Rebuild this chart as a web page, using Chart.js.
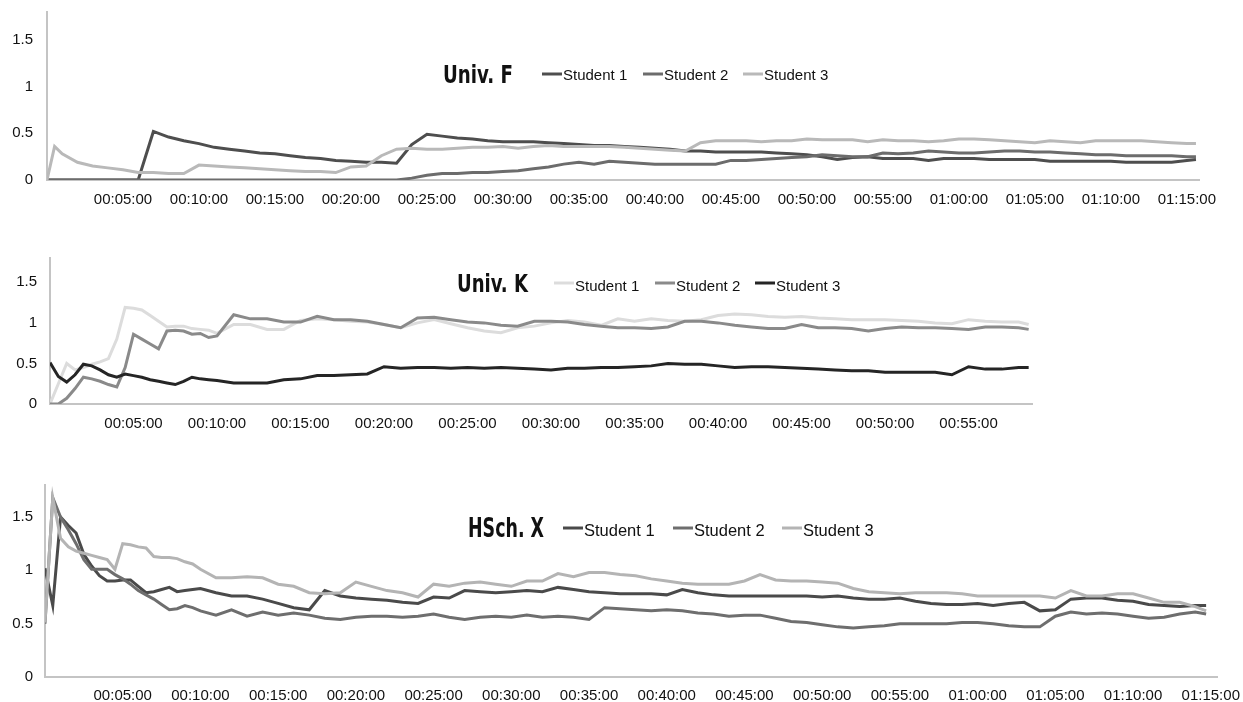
<!DOCTYPE html>
<html lang="en">
<head>
  <meta charset="UTF-8" />
  <title>Univ. F / Univ. K / HSch. X</title>
  <!-- Chart.js -->
  <script src="https://cdn.jsdelivr.net/npm/chart.js@4.4.0/dist/chart.umd.min.js"></script>
  <style>
    html, body { margin: 0; padding: 0; background: #fff; }
    body { width: 1243px; height: 702px; position: relative; overflow: hidden; }
    canvas { position: absolute; left: 0; }
  </style>
</head>
<body>
  <canvas id="chartF" width="1243" height="235" style="top:-15px"></canvas>
  <canvas id="chartK" width="1243" height="210" style="top:230px"></canvas>
  <canvas id="chartX" width="1260" height="242" style="top:460px"></canvas>

  <script>
    // ---- data (minutes elapsed, values) ----
    const seriesNames = ['Student 1', 'Student 2', 'Student 3'];
    const yTicks = [0, 0.5, 1, 1.5];

    // Univ. F
    const F_TIMES = [
      0, 0.5, 1, 2, 3, 4, 5, 6, 7, 8,
      9, 10, 11, 12, 13, 14, 15, 16, 17, 18,
      19, 20, 21, 22, 23, 24, 25, 26, 27, 28,
      29, 30, 31, 32, 33, 34, 35, 36, 37, 38,
      39, 40, 41, 42, 43, 44, 45, 46, 47, 48,
      49, 50, 51, 52, 53, 54, 55, 56, 57, 58,
      59, 60, 61, 62, 63, 64, 65, 66, 67, 68,
      69, 70, 71, 72, 73, 74, 75, 75.6
    ];
    const F_S1 = [
      0, 0, 0, 0, 0, 0, 0, 0, 0.52, 0.46,
      0.42, 0.39, 0.35, 0.33, 0.31, 0.29, 0.28, 0.26, 0.24, 0.23,
      0.21, 0.20, 0.19, 0.19, 0.18, 0.38, 0.49, 0.47, 0.45, 0.44,
      0.42, 0.41, 0.41, 0.41, 0.40, 0.39, 0.38, 0.37, 0.37, 0.36,
      0.35, 0.34, 0.33, 0.31, 0.31, 0.30, 0.30, 0.30, 0.30, 0.29,
      0.28, 0.27, 0.25, 0.22, 0.24, 0.25, 0.23, 0.23, 0.23, 0.21,
      0.23, 0.23, 0.23, 0.22, 0.22, 0.22, 0.22, 0.20, 0.20, 0.20,
      0.20, 0.20, 0.19, 0.19, 0.19, 0.19, 0.21, 0.22
    ];
    const F_S2 = [
      0, 0, 0, 0, 0, 0, 0, 0, 0, 0,
      0, 0, 0, 0, 0, 0, 0, 0, 0, 0,
      0, 0, 0, 0, 0, 0.02, 0.05, 0.07, 0.07, 0.08,
      0.08, 0.09, 0.10, 0.12, 0.14, 0.17, 0.19, 0.17, 0.20, 0.19,
      0.18, 0.17, 0.17, 0.17, 0.17, 0.17, 0.21, 0.21, 0.22, 0.23,
      0.24, 0.25, 0.27, 0.26, 0.25, 0.25, 0.29, 0.28, 0.29, 0.31,
      0.30, 0.29, 0.29, 0.30, 0.31, 0.31, 0.30, 0.30, 0.29, 0.28,
      0.27, 0.27, 0.26, 0.26, 0.26, 0.26, 0.25, 0.25
    ];
    const F_S3 = [
      0, 0.36, 0.28, 0.19, 0.15, 0.13, 0.11, 0.08, 0.08, 0.07,
      0.07, 0.16, 0.15, 0.14, 0.13, 0.12, 0.11, 0.10, 0.09, 0.09,
      0.08, 0.14, 0.15, 0.26, 0.33, 0.34, 0.33, 0.33, 0.34, 0.35,
      0.35, 0.36, 0.34, 0.36, 0.37, 0.36, 0.36, 0.36, 0.36, 0.35,
      0.34, 0.33, 0.32, 0.31, 0.40, 0.42, 0.42, 0.42, 0.41, 0.42,
      0.42, 0.44, 0.43, 0.43, 0.43, 0.41, 0.43, 0.42, 0.42, 0.41,
      0.42, 0.44, 0.44, 0.43, 0.42, 0.41, 0.40, 0.42, 0.41, 0.40,
      0.42, 0.42, 0.42, 0.42, 0.41, 0.40, 0.39, 0.39
    ];

    // Univ. K
    const K_TIMES = [
      0, 0.5, 1, 1.5, 2, 2.5, 3, 3.5, 4, 4.5,
      5, 5.5, 6, 6.5, 7, 7.5, 8, 8.5, 9, 9.5,
      10, 11, 12, 13, 14, 15, 16, 17, 18, 19,
      20, 21, 22, 23, 24, 25, 26, 27, 28, 29,
      30, 31, 32, 33, 34, 35, 36, 37, 38, 39,
      40, 41, 42, 43, 44, 45, 46, 47, 48, 49,
      50, 51, 52, 53, 54, 55, 56, 57, 58, 58.6
    ];
    const K_S1 = [
      0, 0.25, 0.50, 0.42, 0.45, 0.49, 0.52, 0.56, 0.80, 1.19,
      1.18, 1.16, 1.09, 1.02, 0.95, 0.96, 0.96, 0.93, 0.92, 0.91,
      0.87, 0.98, 0.98, 0.92, 0.92, 1.03, 1.05, 1.04, 1.02, 1.01,
      0.98, 0.94, 1.00, 1.04, 0.99, 0.94, 0.90, 0.88, 0.94, 0.96,
      1.00, 1.03, 1.01, 0.97, 1.05, 1.02, 1.05, 1.03, 1.02, 1.04,
      1.09, 1.11, 1.10, 1.08, 1.07, 1.08, 1.06, 1.05, 1.04, 1.04,
      1.04, 1.03, 1.02, 1.00, 0.99, 1.04, 1.02, 1.01, 1.01, 0.98
    ];
    const K_S2 = [
      0, 0, 0.07, 0.19, 0.33, 0.31, 0.28, 0.24, 0.21, 0.45,
      0.86, 0.80, 0.74, 0.68, 0.90, 0.91, 0.90, 0.86, 0.87, 0.82,
      0.84, 1.10, 1.05, 1.05, 1.01, 1.01, 1.08, 1.04, 1.04, 1.02,
      0.98, 0.94, 1.06, 1.07, 1.04, 1.01, 1.00, 0.97, 0.96, 1.02,
      1.02, 1.01, 0.98, 0.96, 0.94, 0.94, 0.93, 0.95, 1.02, 1.02,
      1.00, 0.97, 0.95, 0.93, 0.93, 0.98, 0.94, 0.94, 0.93, 0.90,
      0.93, 0.95, 0.94, 0.94, 0.93, 0.92, 0.95, 0.95, 0.94, 0.92
    ];
    const K_S3 = [
      0.51, 0.34, 0.27, 0.36, 0.49, 0.47, 0.42, 0.36, 0.33, 0.37,
      0.35, 0.33, 0.30, 0.28, 0.26, 0.24, 0.28, 0.33, 0.31, 0.30,
      0.29, 0.26, 0.26, 0.26, 0.30, 0.31, 0.35, 0.35, 0.36, 0.37,
      0.46, 0.44, 0.45, 0.45, 0.44, 0.45, 0.44, 0.45, 0.44, 0.43,
      0.42, 0.44, 0.44, 0.45, 0.45, 0.46, 0.47, 0.50, 0.49, 0.49,
      0.47, 0.45, 0.46, 0.46, 0.45, 0.44, 0.43, 0.42, 0.41, 0.41,
      0.39, 0.39, 0.39, 0.39, 0.36, 0.46, 0.43, 0.43, 0.45, 0.45
    ];

    // HSch. X
    const X_TIMES = [
      0, 0.5, 1, 1.5, 2, 2.5, 3, 3.5, 4, 4.5,
      5, 5.5, 6, 6.5, 7, 7.5, 8, 8.5, 9, 9.5,
      10, 11, 12, 13, 14, 15, 16, 17, 18, 19,
      20, 21, 22, 23, 24, 25, 26, 27, 28, 29,
      30, 31, 32, 33, 34, 35, 36, 37, 38, 39,
      40, 41, 42, 43, 44, 45, 46, 47, 48, 49,
      50, 51, 52, 53, 54, 55, 56, 57, 58, 59,
      60, 61, 62, 63, 64, 65, 66, 67, 68, 69,
      70, 71, 72, 73, 74, 74.7
    ];
    const X_S1 = [
      1.02, 0.67, 1.50, 1.42, 1.35, 1.15, 1.04, 0.95, 0.90, 0.90,
      0.91, 0.91, 0.85, 0.79, 0.80, 0.82, 0.84, 0.80, 0.81, 0.82,
      0.83, 0.79, 0.76, 0.76, 0.73, 0.69, 0.65, 0.63, 0.81, 0.76,
      0.74, 0.73, 0.72, 0.70, 0.69, 0.75, 0.74, 0.81, 0.80, 0.79,
      0.80, 0.81, 0.80, 0.84, 0.82, 0.80, 0.79, 0.78, 0.78, 0.78,
      0.77, 0.82, 0.79, 0.77, 0.76, 0.76, 0.76, 0.76, 0.76, 0.76,
      0.75, 0.76, 0.74, 0.73, 0.73, 0.74, 0.71, 0.69, 0.68, 0.68,
      0.69, 0.67, 0.69, 0.70, 0.62, 0.63, 0.73, 0.74, 0.74, 0.72,
      0.71, 0.68, 0.67, 0.66, 0.67, 0.67
    ];
    const X_S2 = [
      0.50, 1.68, 1.50, 1.38, 1.25, 1.10, 1.01, 1.01, 1.01, 0.96,
      0.92, 0.87, 0.81, 0.77, 0.73, 0.68, 0.63, 0.64, 0.67, 0.65,
      0.62, 0.58, 0.63, 0.57, 0.61, 0.58, 0.60, 0.58, 0.55, 0.54,
      0.56, 0.57, 0.57, 0.56, 0.57, 0.59, 0.56, 0.54, 0.56, 0.57,
      0.56, 0.58, 0.56, 0.57, 0.56, 0.54, 0.65, 0.64, 0.63, 0.62,
      0.63, 0.62, 0.60, 0.59, 0.57, 0.58, 0.58, 0.55, 0.52, 0.51,
      0.49, 0.47, 0.46, 0.47, 0.48, 0.50, 0.50, 0.50, 0.50, 0.51,
      0.51, 0.50, 0.48, 0.47, 0.47, 0.57, 0.61, 0.59, 0.60, 0.59,
      0.57, 0.55, 0.56, 0.59, 0.61, 0.59
    ];
    const X_S3 = [
      0.51, 1.68, 1.30, 1.22, 1.18, 1.16, 1.14, 1.12, 1.10, 1.01,
      1.25, 1.24, 1.22, 1.21, 1.13, 1.12, 1.12, 1.11, 1.08, 1.06,
      1.01, 0.93, 0.93, 0.94, 0.93, 0.87, 0.85, 0.79, 0.78, 0.79,
      0.89, 0.85, 0.81, 0.79, 0.75, 0.87, 0.85, 0.88, 0.89, 0.87,
      0.85, 0.90, 0.90, 0.97, 0.94, 0.98, 0.98, 0.96, 0.95, 0.92,
      0.90, 0.88, 0.87, 0.87, 0.87, 0.90, 0.96, 0.91, 0.90, 0.90,
      0.89, 0.88, 0.83, 0.80, 0.79, 0.78, 0.79, 0.79, 0.79, 0.78,
      0.76, 0.76, 0.76, 0.76, 0.76, 0.74, 0.81, 0.76, 0.76, 0.78,
      0.78, 0.74, 0.70, 0.70, 0.66, 0.62
    ];

    // ---- drawing ----
    Chart.defaults.font.family = '"Liberation Sans", Arial, Helvetica, sans-serif';
    Chart.defaults.font.size = 15;
    Chart.defaults.color = '#111';

    function hms(min) {
      const h = Math.floor(min / 60), m = min % 60;
      return String(h).padStart(2, '0') + ':' + String(m).padStart(2, '0') + ':00';
    }

    // title + legend drawn inside the plot, like the original sheet
    const titleLegend = {
      id: 'titleLegend',
      afterDraw(chart, args, o) {
        const ctx = chart.ctx;
        ctx.save();
        ctx.fillStyle = '#111';
        ctx.font = o.titleFont;
        ctx.textBaseline = 'alphabetic';
        const w = ctx.measureText(o.title).width;
        ctx.translate(o.titleX, o.titleY);
        ctx.scale(o.titleWidth / w, 1);
        ctx.fillText(o.title, 0, 0);
        ctx.restore();

        ctx.save();
        ctx.font = o.legendFont;
        ctx.textBaseline = 'alphabetic';
        chart.data.datasets.forEach((ds, i) => {
          const x = o.legendX[i];
          ctx.strokeStyle = ds.borderColor;
          ctx.lineWidth = 3;
          ctx.beginPath();
          ctx.moveTo(x, o.lineY);
          ctx.lineTo(x + 20, o.lineY);
          ctx.stroke();
          ctx.fillStyle = '#111';
          ctx.fillText(ds.label, x + 21, o.textY);
        });
        ctx.restore();
      }
    };

    function makeChart(id, times, values, colors, xMax, box, tl) {
      const datasets = values.map((vals, i) => ({
        label: seriesNames[i],
        data: times.map((t, j) => ({ x: t, y: vals[j] })),
        borderColor: colors[i],
        borderWidth: 3,
        pointRadius: 0,
        tension: 0,
        fill: false,
        order: 2 - i
      }));
      new Chart(document.getElementById(id), {
        type: 'line',
        data: { datasets },
        options: {
          responsive: false,
          animation: false,
          layout: { padding: { top: box.top, right: box.right, left: 0, bottom: 0 } },
          plugins: { legend: { display: false }, tooltip: { enabled: false }, titleLegend: tl },
          scales: {
            x: {
              type: 'linear', min: 0, max: xMax,
              grid: { color: 'transparent', drawTicks: false },
              border: { display: true, color: '#c4c4c4', width: 2 },
              ticks: {
                stepSize: 5, includeBounds: false, autoSkip: false, maxRotation: 0, padding: box.xPad,
                callback: v => (v > 0 && v % 5 === 0) ? hms(v) : null
              },
              afterFit: s => { s.height = box.xH; }
            },
            y: {
              min: 0, max: 1.8,
              grid: { color: 'transparent', drawTicks: false },
              border: { display: true, color: '#c4c4c4', width: 2 },
              ticks: {
                stepSize: 0.5, includeBounds: false, padding: box.yPad,
                callback: v => yTicks.includes(Math.round(v * 100) / 100) ? String(v) : null
              },
              afterFit: s => { s.width = box.yW; }
            }
          }
        },
        plugins: [titleLegend]
      });
    }

    makeChart('chartF', F_TIMES, [F_S1, F_S2, F_S3], ['#4e4e4e', '#6c6c6c', '#b9b9b9'], 75.8,
      { top: 27, right: 44, xH: 40, yW: 47, xPad: 11, yPad: 14 },
      { title: 'Univ. F', titleX: 443, titleY: 98, titleWidth: 70,
        titleFont: 'bold 25px "Liberation Sans Narrow", "DejaVu Sans Condensed", sans-serif',
        legendFont: '15px "Liberation Sans", Arial, sans-serif',
        legendX: [542, 643, 743], lineY: 89, textY: 95 });

    makeChart('chartK', K_TIMES, [K_S1, K_S2, K_S3], ['#dcdcdc', '#8a8a8a', '#252525'], 58.8,
      { top: 28, right: 211, xH: 36, yW: 50, xPad: 11, yPad: 13 },
      { title: 'Univ. K', titleX: 457, titleY: 62, titleWidth: 71,
        titleFont: 'bold 24px "Liberation Sans Narrow", "DejaVu Sans Condensed", sans-serif',
        legendFont: '15px "Liberation Sans", Arial, sans-serif',
        legendX: [554, 655, 755], lineY: 53, textY: 61 });

    makeChart('chartX', X_TIMES, [X_S1, X_S2, X_S3], ['#4a4a4a', '#6e6e6e', '#b4b4b4'], 75.4,
      { top: 25, right: 43, xH: 25, yW: 45, xPad: 10, yPad: 12 },
      { title: 'HSch. X', titleX: 468, titleY: 77, titleWidth: 76,
        titleFont: 'bold 26px "Liberation Sans Narrow", "DejaVu Sans Condensed", sans-serif',
        legendFont: '16.5px "Liberation Sans", Arial, sans-serif',
        legendX: [563, 673, 782], lineY: 68, textY: 76 });
  </script>
</body>
</html>
